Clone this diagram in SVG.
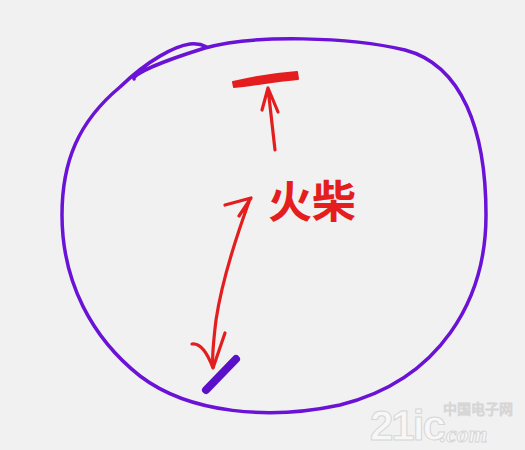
<svg xmlns="http://www.w3.org/2000/svg" width="525" height="450" viewBox="0 0 525 450">
<style>
.pur{fill:none;stroke:#6a12d6;stroke-width:3.5;stroke-linecap:round;stroke-linejoin:round}
.red{fill:none;stroke:#e41e1e;stroke-width:3.2;stroke-linecap:round;stroke-linejoin:round}
.wm{fill:#f7f7f7;stroke:#d6d6d6;stroke-width:1}
</style>
<rect width="525" height="450" fill="#f1f1f1"/>
<g id="circle">
<path class="pur" d="M 134,79 C 133,74 160,62 205,48 C 255,34 350,37 405,50 C 462,65 486,130 486,215 C 486,300 440,380 340,405 C 270,420 190,414 140,376 C 92,338 62,282 62,215 C 62,162 78,122 120,87 C 148,60 175,46 190,44 C 198,43 203,45 207,47"/>
</g>
<g id="connectors">
<path d="M 233,82 C 250,78 270,74 297,72 L 298,79 C 275,81 255,85 234,87 Z" fill="#e41e1e" stroke="#e41e1e" stroke-width="2" stroke-linejoin="round"/>
<path class="red" d="M 275,150 L 268,88 M 262,110 L 268,88 L 278,112"/>
<path class="red" d="M 225,205 L 251,198 L 239,216 M 250,199 C 235,240 222,280 216,320 C 213,345 212,360 213,367"/>
<path class="red" d="M 192,344 C 200,343 207,352 213,368 L 225,333"/>
<path d="M 206,390 L 236,359" stroke="#5a10c8" stroke-width="8" stroke-linecap="round" fill="none"/>
</g>
<g id="label">
<text x="312" y="218" font-family="'Noto Sans CJK SC', sans-serif" font-weight="bold" font-size="44" fill="#e41e1e" text-anchor="middle">火柴</text>
</g>
<g id="watermark">
<text x="370" y="440" class="wm" font-family="'Liberation Sans', sans-serif" font-weight="bold" font-size="42" letter-spacing="-2">21ic</text>
<text x="440" y="442" class="wm" font-family="'Liberation Serif', serif" font-style="italic" font-weight="bold" font-size="24">.com</text>
<text x="443" y="414" class="wm" font-family="'Noto Sans CJK SC', sans-serif" font-size="14">中国电子网</text>
</g>
</svg>
